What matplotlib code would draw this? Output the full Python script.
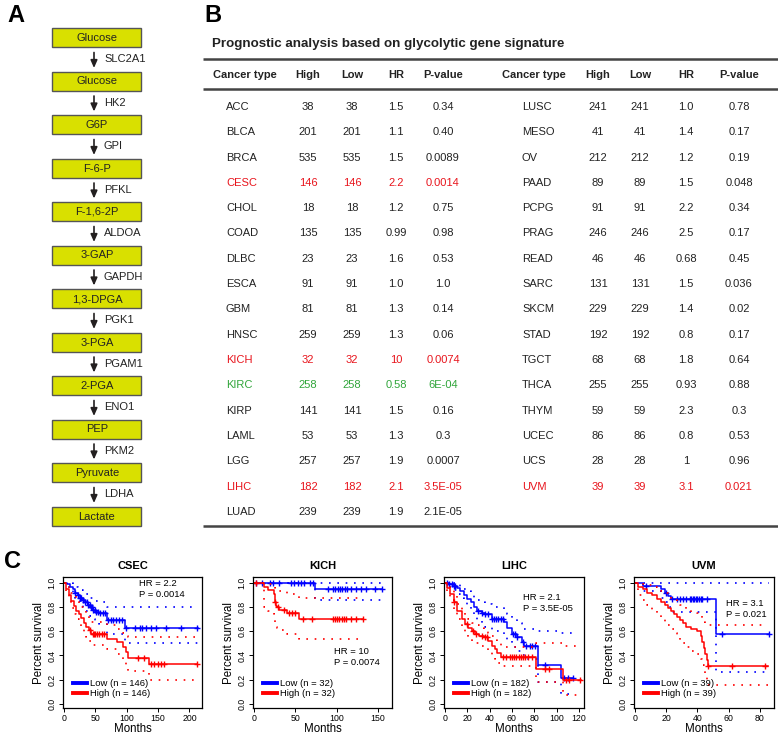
import numpy as np
import matplotlib.pyplot as plt
from matplotlib.patches import Rectangle
from matplotlib.lines import Line2D

plt.rcParams['font.family'] = ['Liberation Sans', 'DejaVu Sans']

W, H = 778, 736

# ---- panel A: glycolysis pathway
metabolites = ["Glucose", "Glucose", "G6P", "F-6-P", "F-1,6-2P", "3-GAP", "1,3-DPGA",
               "3-PGA", "2-PGA", "PEP", "Pyruvate", "Lactate"]
enzymes = ["SLC2A1", "HK2", "GPI", "PFKL", "ALDOA", "GAPDH", "PGK1", "PGAM1",
           "ENO1", "PKM2", "LDHA"]

# ---- panel B: prognostic table
left_type = ["ACC", "BLCA", "BRCA", "CESC", "CHOL", "COAD", "DLBC", "ESCA", "GBM",
             "HNSC", "KICH", "KIRC", "KIRP", "LAML", "LGG", "LIHC", "LUAD"]
left_high = ["38", "201", "535", "146", "18", "135", "23", "91", "81", "259", "32",
             "258", "141", "53", "257", "182", "239"]
left_low = ["38", "201", "535", "146", "18", "135", "23", "91", "81", "259", "32",
            "258", "141", "53", "257", "182", "239"]
left_hr = ["1.5", "1.1", "1.5", "2.2", "1.2", "0.99", "1.6", "1.0", "1.3", "1.3", "10",
           "0.58", "1.5", "1.3", "1.9", "2.1", "1.9"]
left_p = ["0.34", "0.40", "0.0089", "0.0014", "0.75", "0.98", "0.53", "1.0", "0.14",
          "0.06", "0.0074", "6E-04", "0.16", "0.3", "0.0007", "3.5E-05", "2.1E-05"]

right_type = ["LUSC", "MESO", "OV", "PAAD", "PCPG", "PRAG", "READ", "SARC", "SKCM",
              "STAD", "TGCT", "THCA", "THYM", "UCEC", "UCS", "UVM"]
right_high = ["241", "41", "212", "89", "91", "246", "46", "131", "229", "192", "68",
              "255", "59", "86", "28", "39"]
right_low = ["241", "41", "212", "89", "91", "246", "46", "131", "229", "192", "68",
             "255", "59", "86", "28", "39"]
right_hr = ["1.0", "1.4", "1.2", "1.5", "2.2", "2.5", "0.68", "1.5", "1.4", "0.8", "1.8",
            "0.93", "2.3", "0.8", "1", "3.1"]
right_p = ["0.78", "0.17", "0.19", "0.048", "0.34", "0.17", "0.45", "0.036", "0.02",
           "0.17", "0.64", "0.88", "0.3", "0.53", "0.96", "0.021"]

bad_types = ["CESC", "KICH", "LIHC", "UVM"]
good_types = ["KIRC"]

# ---- panel C: Kaplan-Meier curves (times in months, survival fraction)
csec_low_t = [0, 5, 10, 14, 18, 22, 26, 30, 34, 38, 42, 46, 50, 56, 68, 97, 214]
csec_low_s = [1.0, 0.99, 0.97, 0.95, 0.92, 0.90, 0.88, 0.86, 0.84, 0.82, 0.80, 0.78, 0.76, 0.75, 0.69, 0.63, 0.63]
csec_low_up = [1.0, 1.0, 1.0, 0.99, 0.97, 0.96, 0.94, 0.93, 0.91, 0.90, 0.88, 0.87, 0.85, 0.84, 0.80, 0.80, 0.80]
csec_low_lo = [1.0, 0.97, 0.94, 0.91, 0.88, 0.85, 0.82, 0.80, 0.77, 0.75, 0.73, 0.70, 0.68, 0.66, 0.58, 0.50, 0.50]
csec_low_cens = [18, 22, 26, 28, 31, 34, 37, 39, 41, 43, 45, 47, 49, 52, 55, 58, 62, 66, 71, 75, 79,
                 83, 88, 92, 99, 113, 121, 124, 131, 139, 147, 163, 187, 212]
csec_high_t = [0, 4, 8, 12, 16, 20, 24, 28, 32, 36, 40, 44, 68, 84, 94, 99, 102, 136, 212]
csec_high_s = [1.0, 0.95, 0.90, 0.85, 0.81, 0.77, 0.74, 0.71, 0.67, 0.64, 0.61, 0.58, 0.54, 0.51, 0.47, 0.43, 0.38, 0.33, 0.33]
csec_high_up = [1.0, 1.0, 0.96, 0.92, 0.89, 0.86, 0.83, 0.80, 0.77, 0.74, 0.71, 0.68, 0.65, 0.62, 0.59, 0.56, 0.55, 0.55, 0.55]
csec_high_lo = [1.0, 0.91, 0.85, 0.79, 0.74, 0.70, 0.66, 0.62, 0.58, 0.55, 0.52, 0.49, 0.45, 0.41, 0.36, 0.31, 0.27, 0.20, 0.20]
csec_high_cens = [42, 46, 48, 50, 53, 56, 60, 64, 118, 127, 139, 144, 150, 155, 160, 212]

kich_low_t = [0, 74, 155]
kich_low_s = [1.0, 0.95, 0.95]
kich_low_up = [1.0, 1.0, 1.0]
kich_low_lo = [1.0, 0.86, 0.86]
kich_low_cens = [3, 10, 20, 23, 30, 45, 49, 53, 57, 61, 68, 71, 90, 96, 98, 102, 104, 107, 110,
                 113, 117, 123, 129, 136, 147, 155]
kich_high_t = [0, 12, 17, 24, 25, 26, 27, 28, 30, 33, 40, 55, 132]
kich_high_s = [1.0, 0.97, 0.94, 0.91, 0.875, 0.84, 0.81, 0.80, 0.78, 0.78, 0.75, 0.70, 0.70]
kich_high_up = [1.0, 1.0, 0.99, 0.98, 0.97, 0.96, 0.95, 0.94, 0.93, 0.93, 0.91, 0.88, 0.88]
kich_high_lo = [1.0, 0.80, 0.77, 0.74, 0.70, 0.67, 0.64, 0.63, 0.61, 0.61, 0.58, 0.54, 0.54]
kich_high_cens = [3, 26, 29, 36, 42, 46, 50, 60, 70, 96, 98, 100, 103, 106, 109, 112, 118, 124, 132]

lihc_low_t = [0, 4, 8, 11, 14, 17, 20, 23, 26, 29, 33, 36, 42, 53, 56, 60, 65, 69, 71, 83, 104, 115]
lihc_low_s = [1.0, 0.99, 0.975, 0.96, 0.93, 0.90, 0.87, 0.84, 0.80, 0.77, 0.75, 0.74, 0.70, 0.68,
              0.63, 0.58, 0.55, 0.51, 0.48, 0.32, 0.21, 0.21]
lihc_low_up = [1.0, 1.0, 1.0, 0.99, 0.97, 0.95, 0.93, 0.91, 0.88, 0.86, 0.84, 0.83, 0.80, 0.78,
               0.74, 0.70, 0.67, 0.64, 0.62, 0.60, 0.59, 0.59]
lihc_low_lo = [1.0, 0.97, 0.94, 0.91, 0.88, 0.84, 0.80, 0.76, 0.72, 0.69, 0.66, 0.64, 0.60, 0.58,
               0.53, 0.47, 0.44, 0.40, 0.37, 0.18, 0.08, 0.08]
lihc_low_cens = [2, 4, 6, 8, 9, 30, 33, 36, 39, 42, 44, 46, 48, 50, 52, 61, 63, 65, 70, 73, 76,
                 78, 81, 90, 107, 110, 115]
lihc_high_t = [0, 2, 5, 8, 11, 15, 18, 21, 24, 27, 31, 35, 39, 42, 45, 47, 50, 82, 106, 122]
lihc_high_s = [1.0, 0.96, 0.91, 0.84, 0.77, 0.70, 0.66, 0.63, 0.60, 0.58, 0.56, 0.55, 0.52, 0.48,
               0.45, 0.42, 0.39, 0.29, 0.20, 0.20]
lihc_high_up = [1.0, 0.99, 0.95, 0.89, 0.83, 0.77, 0.73, 0.70, 0.67, 0.65, 0.63, 0.62, 0.59, 0.56,
                0.53, 0.50, 0.47, 0.50, 0.48, 0.48]
lihc_high_lo = [1.0, 0.92, 0.86, 0.78, 0.70, 0.63, 0.59, 0.55, 0.52, 0.50, 0.48, 0.47, 0.44, 0.40,
                0.37, 0.34, 0.31, 0.18, 0.07, 0.07]
lihc_high_cens = [8, 20, 25, 28, 33, 36, 38, 52, 55, 58, 60, 62, 64, 66, 68, 70, 72, 74, 78, 90,
                  93, 108, 111, 121]

uvm_low_t = [0, 5, 17, 19, 21, 23, 52, 86]
uvm_low_s = [1.0, 0.975, 0.95, 0.92, 0.895, 0.87, 0.58, 0.58]
uvm_low_up = [1.0, 1.0, 1.0, 1.0, 1.0, 1.0, 1.0, 1.0]
uvm_low_lo = [1.0, 0.93, 0.88, 0.84, 0.80, 0.76, 0.26, 0.26]
uvm_low_cens = [7, 20, 24, 27, 29, 31, 33, 35, 36, 37, 38, 39, 40, 41, 42, 43, 46, 56, 86]
uvm_high_t = [0, 2, 5, 8, 11, 14, 17, 19, 21, 23, 25, 27, 29, 31, 33, 36, 40, 42, 43, 44, 45, 46, 47, 85]
uvm_high_s = [1.0, 0.97, 0.95, 0.92, 0.90, 0.87, 0.84, 0.82, 0.79, 0.77, 0.74, 0.72, 0.69, 0.67,
              0.64, 0.62, 0.60, 0.56, 0.51, 0.46, 0.41, 0.36, 0.31, 0.31]
uvm_high_up = [1.0, 1.0, 0.99, 0.98, 0.97, 0.95, 0.93, 0.92, 0.90, 0.88, 0.86, 0.84, 0.82, 0.80,
               0.78, 0.76, 0.75, 0.73, 0.70, 0.68, 0.66, 0.65, 0.65, 0.65]
uvm_high_lo = [1.0, 0.90, 0.86, 0.82, 0.78, 0.75, 0.71, 0.68, 0.65, 0.62, 0.59, 0.56, 0.53, 0.50,
               0.47, 0.44, 0.41, 0.37, 0.32, 0.27, 0.23, 0.19, 0.156, 0.156]
uvm_high_cens = [47, 62, 83]

RED = '#e8141c'
GREEN = '#30a53a'
TXT = '#222222'

fig = plt.figure(figsize=(7.78, 7.36), dpi=100)
bg = fig.add_axes([0, 0, 1, 1])
bg.set_xlim(0, W)
bg.set_ylim(H, 0)
bg.axis('off')

# panel letters
for lab, x, y in [("A", 7, 15), ("B", 204, 15), ("C", 4, 562)]:
    bg.text(x, y, lab, fontsize=17, fontweight='bold', va='center', ha='left')

# ---- A
step = 43.5
for i, m in enumerate(metabolites):
    yc = 37.5 + i * step
    bg.add_patch(Rectangle((52.5, yc - 9.5), 89, 19, fc='#d9e000', ec='#555555', lw=1.0))
    bg.text(97, yc + 0.5, m, fontsize=8, ha='center', va='center', color=TXT)
for i, e in enumerate(enzymes):
    yc = 37.5 + i * step
    bg.annotate('', xy=(94, yc + step - 13), xytext=(94, yc + 15),
                arrowprops=dict(arrowstyle='-|>,head_width=0.22,head_length=0.5', lw=1.2,
                                color='#231f20', mutation_scale=9, shrinkA=0, shrinkB=0))
    bg.text(104, yc + step / 2, e, fontsize=8, ha='left', va='center', color=TXT)

# ---- B
bg.text(212, 44, "Prognostic analysis based on glycolytic gene signature",
        fontsize=9.6, fontweight='bold', va='center', color=TXT)
for yl in (59, 88.5, 526):
    bg.plot([203, 778], [yl, yl], color='#444444', lw=1.8, solid_capstyle='butt')

hdr_y = 75
left_cols = [308, 352, 396, 443]
right_cols = [598, 640, 686, 739]
bg.text(213, hdr_y, "Cancer type", fontsize=8, fontweight='bold', va='center', color=TXT)
bg.text(502, hdr_y, "Cancer type", fontsize=8, fontweight='bold', va='center', color=TXT)
for cols in (left_cols, right_cols):
    for x, h in zip(cols, ["High", "Low", "HR", "P-value"]):
        bg.text(x, hdr_y, h, fontsize=8, fontweight='bold', ha='center', va='center', color=TXT)


def row_color(name):
    if name in bad_types:
        return RED
    if name in good_types:
        return GREEN
    return TXT


def table_block(types, high, low, hr, pv, name_x, cols):
    for i in range(len(types)):
        y = 107 + i * 25.3
        c = row_color(types[i])
        bg.text(name_x, y, types[i], fontsize=8, va='center', color=c)
        for x, v in zip(cols, [high[i], low[i], hr[i], pv[i]]):
            bg.text(x, y, v, fontsize=8, ha='center', va='center', color=c)


table_block(left_type, left_high, left_low, left_hr, left_p, 226, left_cols)
table_block(right_type, right_high, right_low, right_hr, right_p, 522, right_cols)

# ---- C


def km_panel(rect, title, xmax, xticks, low, high, n, hr, p, txt_pos):
    ax = fig.add_axes([rect[0] / W, 1 - rect[3] / H, (rect[1] - rect[0]) / W, (rect[3] - rect[2]) / H])
    for grp, col in ((low, 'blue'), (high, 'red')):
        t, s, up, lo, cens = grp
        ax.step(t, up, where='post', color=col, lw=1.2, ls=(0, (1, 4)))
        ax.step(t, lo, where='post', color=col, lw=1.2, ls=(0, (1, 4)))
        ax.step(t, s, where='post', color=col, lw=1.1)
        idx = np.searchsorted(t, cens, side='right') - 1
        ax.plot(cens, np.asarray(s)[idx], ls='none', marker='+', ms=5, mew=1.0, color=col)
    ax.set_xlim(-xmax * 0.006, xmax)
    ax.set_ylim(-0.035, 1.05)
    ax.set_xticks(xticks)
    ax.set_yticks([0, 0.2, 0.4, 0.6, 0.8, 1.0])
    ax.set_yticklabels(["0.0", "0.2", "0.4", "0.6", "0.8", "1.0"], rotation=90, va='center')
    ax.tick_params(labelsize=6.3, length=3, width=0.7, pad=1.5)
    ax.set_xlabel("Months", fontsize=8.3, labelpad=0)
    ax.set_ylabel("Percent survival", fontsize=8.3, labelpad=2)
    ax.set_title(title, fontsize=8, fontweight='bold', pad=6)
    for sp in ax.spines.values():
        sp.set_linewidth(0.9)
    ax.text(txt_pos[0], txt_pos[1], "HR = " + hr, transform=ax.transAxes, fontsize=6.8, va='center')
    ax.text(txt_pos[0], txt_pos[1] - 0.083, "P = " + p, transform=ax.transAxes, fontsize=6.8, va='center')
    handles = [Line2D([], [], color='blue', lw=2.8), Line2D([], [], color='red', lw=2.8)]
    ax.legend(handles, [f"Low (n = {n})", f"High (n = {n})"], loc='lower left',
              bbox_to_anchor=(0.02, 0.02), frameon=False, fontsize=6.8, handlelength=1.4,
              handletextpad=0.4, labelspacing=0.1, borderpad=0.3)
    return ax


km_panel((63, 202, 577, 708), "CSEC", 220, [0, 50, 100, 150, 200],
         (csec_low_t, csec_low_s, csec_low_up, csec_low_lo, csec_low_cens),
         (csec_high_t, csec_high_s, csec_high_up, csec_high_lo, csec_high_cens),
         146, "2.2", "0.0014", (0.55, 0.95))
km_panel((253, 392, 577, 708), "KICH", 167, [0, 50, 100, 150],
         (kich_low_t, kich_low_s, kich_low_up, kich_low_lo, kich_low_cens),
         (kich_high_t, kich_high_s, kich_high_up, kich_high_lo, kich_high_cens),
         32, "10", "0.0074", (0.58, 0.43))
km_panel((444, 584, 577, 708), "LIHC", 124.5, [0, 20, 40, 60, 80, 100, 120],
         (lihc_low_t, lihc_low_s, lihc_low_up, lihc_low_lo, lihc_low_cens),
         (lihc_high_t, lihc_high_s, lihc_high_up, lihc_high_lo, lihc_high_cens),
         182, "2.1", "3.5E-05", (0.565, 0.84))
km_panel((634, 774, 577, 708), "UVM", 89, [0, 20, 40, 60, 80],
         (uvm_low_t, uvm_low_s, uvm_low_up, uvm_low_lo, uvm_low_cens),
         (uvm_high_t, uvm_high_s, uvm_high_up, uvm_high_lo, uvm_high_cens),
         39, "3.1", "0.021", (0.66, 0.795))

fig.savefig("out.png", dpi=100)
